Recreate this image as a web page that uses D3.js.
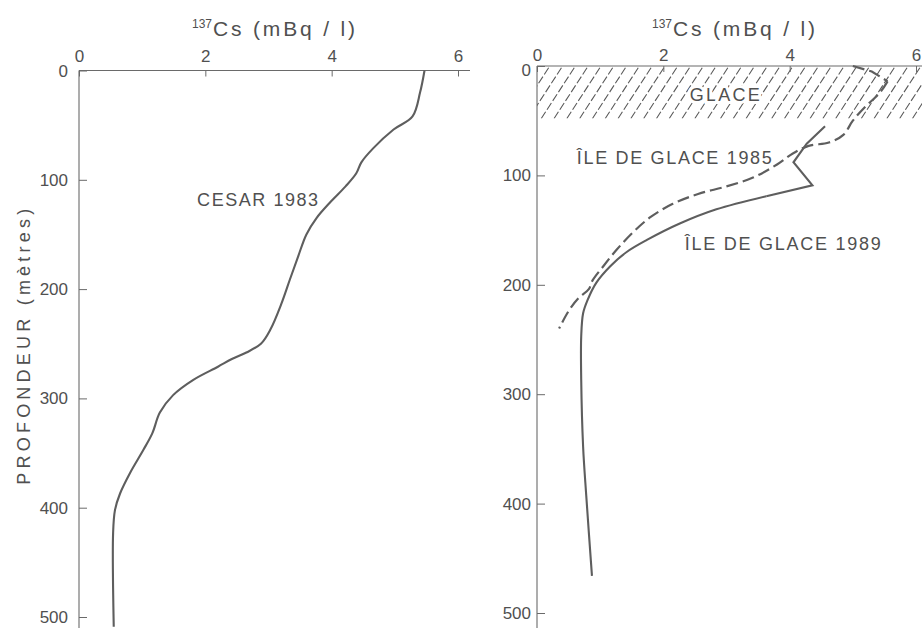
<!DOCTYPE html>
<html>
<head>
<meta charset="utf-8">
<script src="https://cdn.jsdelivr.net/npm/d3@7"></script>
<style>
  html, body { margin: 0; padding: 0; background: #fff; }
  svg { display: block; }
  text { font-family: "Liberation Sans", Arial, Helvetica, sans-serif; fill: #505050; }
</style>
</head>
<body>
<svg id="chart" width="922" height="628"></svg>
<script>
// 137Cs concentration (mBq/l) against depth (m)
const xTicks = [0, 2, 4, 6];
const depthTicks = [0, 100, 200, 300, 400, 500];

// CESAR 1983 profile
const cesarDepth = [0, 20, 42, 54, 71, 84, 94, 106, 121, 135, 150, 170, 191, 214, 237, 250, 258, 264, 271, 283, 297, 313, 332, 347, 368, 387, 402, 423, 509];
const cesarCs    = [5.47, 5.40, 5.28, 4.98, 4.66, 4.47, 4.39, 4.22, 3.97, 3.76, 3.60, 3.47, 3.34, 3.20, 3.03, 2.88, 2.65, 2.42, 2.20, 1.81, 1.49, 1.28, 1.16, 1.02, 0.81, 0.65, 0.57, 0.54, 0.55];

// Île de Glace 1985 profile (dashed)
const ice85Depth = [0, 5, 14, 25, 37, 50, 63, 70, 73, 80, 90, 102, 110, 117, 126, 138, 152, 168, 183, 196, 204, 212, 224, 240];
const ice85Cs    = [5.0, 5.3, 5.55, 5.42, 5.2, 5.0, 4.85, 4.62, 4.3, 4.05, 3.8, 3.42, 3.0, 2.55, 2.15, 1.8, 1.52, 1.26, 1.05, 0.88, 0.82, 0.66, 0.5, 0.35];

// Île de Glace 1989 profile (solid)
const ice89Depth = [55, 71, 88, 109, 119, 131, 144, 159, 170, 183, 198, 214, 226, 247, 287, 348, 393, 466];
const ice89Cs    = [4.56, 4.27, 4.06, 4.36, 3.63, 2.84, 2.26, 1.74, 1.42, 1.16, 0.94, 0.80, 0.73, 0.70, 0.70, 0.73, 0.78, 0.87];

// Ice thickness under the drifting station (m)
const iceThickness = 48;

const svg = d3.select("#chart");
const ink = "#5e5e5e";
const axisInk = "#6a6a6a";
const H = 628;

const xL = d3.scaleLinear().domain([0, 6]).range([79, 458]);
const yL = d3.scaleLinear().domain([0, 500]).range([70.5, 617]);
const xR = d3.scaleLinear().domain([0, 6]).range([537, 916]);
const yR = d3.scaleLinear().domain([0, 500]).range([66, 613]);

function frame(x, y, labelPadX, labelPadY, axisEndX, zeroShift) {
  const g = svg.append("g");
  // top axis, ticks pointing into the plot
  const top = g.append("g").attr("transform", `translate(0,${y(0)})`)
    .call(d3.axisTop(x).tickValues(xTicks).tickFormat(d3.format("d"))
      .tickSizeInner(-6).tickSizeOuter(0).tickPadding(labelPadY));
  top.select(".domain").remove();
  g.append("line").attr("x1", x.range()[0]).attr("x2", axisEndX)
    .attr("y1", y(0)).attr("y2", y(0)).attr("stroke", axisInk).attr("stroke-width", 1.1);
  // depth axis, ticks pointing into the plot
  const left = g.append("g").attr("transform", `translate(${x(0)},0)`)
    .call(d3.axisLeft(y).tickValues(depthTicks).tickFormat(d3.format("d"))
      .tickSizeInner(-8).tickSizeOuter(0).tickPadding(labelPadX));
  left.select(".domain").remove();
  left.selectAll(".tick").filter(d => d === 0).select("text").attr("y", zeroShift);
  g.append("line").attr("x1", x(0)).attr("x2", x(0))
    .attr("y1", y(0)).attr("y2", H).attr("stroke", axisInk).attr("stroke-width", 1.1);
  g.selectAll(".tick line").attr("stroke", axisInk).attr("stroke-width", 1);
  g.selectAll(".tick text").style("font-family", '"Liberation Sans", Arial, sans-serif')
    .style("font-size", "17px").attr("fill", "#505050");
  return g;
}

function title(cx) {
  svg.append("text").attr("x", cx - 80).attr("y", 28).style("font-size", "12px").text("137");
  svg.append("text").attr("x", cx - 59).attr("y", 36).style("font-size", "21px")
    .attr("textLength", 142).attr("lengthAdjust", "spacing").text("Cs (mBq / l)");
}

const curveSmooth = d3.curveCatmullRom.alpha(0.5);

// ---------- left panel ----------
frame(xL, yL, 11, 9, 470, 1);
title(272);

const lineL = d3.line().x(d => xL(d[1])).y(d => yL(d[0])).curve(curveSmooth);
svg.append("path").datum(d3.zip(cesarDepth, cesarCs)).attr("d", lineL)
  .attr("fill", "none").attr("stroke", ink).attr("stroke-width", 2.1);

svg.append("text").attr("x", xL(1.87)).attr("y", yL(124)).style("font-size", "18px")
  .attr("textLength", 121).attr("lengthAdjust", "spacing").text("CESAR 1983");

// depth axis title
svg.append("text").attr("transform", `translate(30,${(yL(0) + yL(500)) / 2 + 3}) rotate(-90)`)
  .attr("text-anchor", "middle").style("font-size", "18px")
  .attr("textLength", 276).attr("lengthAdjust", "spacing").text("PROFONDEUR (mètres)");

// ---------- right panel ----------
// hatched ice layer
const clip = svg.append("clipPath").attr("id", "iceClip");
clip.append("rect").attr("x", xR(0)).attr("y", yR(0)).attr("width", 922 - xR(0)).attr("height", yR(iceThickness) - yR(0));
const hatch = svg.append("g").attr("clip-path", "url(#iceClip)");
const hTop = yR(0), hBot = yR(iceThickness), slant = 0.65 * (hBot - hTop);
d3.range(xR(0) - slant, 930, 12.8).forEach(x0 => {
  hatch.append("line").attr("x1", x0).attr("y1", hBot).attr("x2", x0 + slant).attr("y2", hTop)
    .attr("stroke", "#5a5a5a").attr("stroke-width", 1.1).attr("stroke-dasharray", "8,2.5");
});

frame(xR, yR, 6, 5, 922, 4);
title(732);

svg.append("text").attr("x", xR(2.42)).attr("y", yR(32)).style("font-size", "18px")
  .attr("textLength", 70).attr("lengthAdjust", "spacing")
  .attr("stroke", "#fff").attr("stroke-width", 6).attr("paint-order", "stroke").text("GLACE");

const lineR = curve => d3.line().x(d => xR(d[1])).y(d => yR(d[0])).curve(curve);
const pts85 = d3.zip(ice85Depth, ice85Cs);
const pts89 = d3.zip(ice89Depth, ice89Cs);

// 1985: sharp turn just under the surface, smooth below
svg.append("path").datum(pts85.slice(0, 3)).attr("d", lineR(d3.curveLinear))
  .attr("fill", "none").attr("stroke", ink).attr("stroke-width", 2.2).attr("stroke-dasharray", "12,5");
svg.append("path").datum(pts85.slice(2)).attr("d", lineR(curveSmooth))
  .attr("fill", "none").attr("stroke", ink).attr("stroke-width", 2.2).attr("stroke-dasharray", "12,5");

// 1989: zig-zag in the upper layer, smooth below
svg.append("path").datum(pts89.slice(0, 5)).attr("d", lineR(d3.curveLinear))
  .attr("fill", "none").attr("stroke", ink).attr("stroke-width", 2.1).attr("stroke-linejoin", "miter");
svg.append("path").datum(pts89.slice(4)).attr("d", lineR(curveSmooth))
  .attr("fill", "none").attr("stroke", ink).attr("stroke-width", 2.1);

svg.append("text").attr("x", xR(0.63)).attr("y", yR(89.6)).style("font-size", "18px")
  .attr("textLength", 195).attr("lengthAdjust", "spacing").text("ÎLE DE GLACE 1985");
svg.append("text").attr("x", xR(2.34)).attr("y", yR(168)).style("font-size", "18px")
  .attr("textLength", 196).attr("lengthAdjust", "spacing").text("ÎLE DE GLACE 1989");
</script>
</body>
</html>
